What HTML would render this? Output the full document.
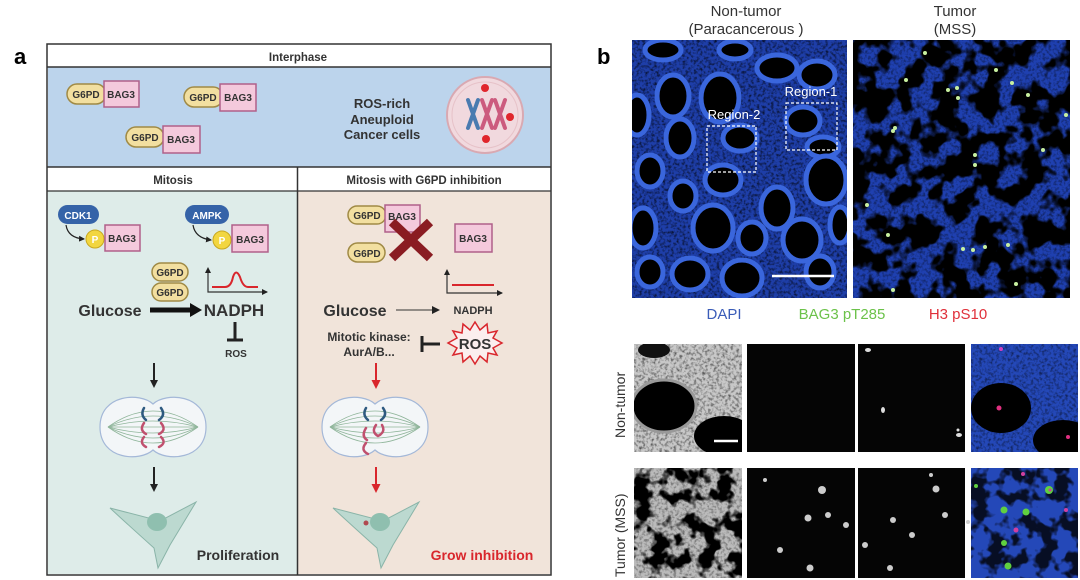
<!DOCTYPE html>
<html><head><meta charset="utf-8"><style>
html,body{margin:0;padding:0;background:#fff;width:1080px;height:580px;overflow:hidden}
svg{display:block}
text{font-family:"Liberation Sans",Arial,sans-serif}
.b{font-weight:bold}
</style></head><body>
<svg width="1080" height="580" viewBox="0 0 1080 580" xmlns="http://www.w3.org/2000/svg">
<defs>
<filter id="noise" x="0" y="0" width="100%" height="100%">
<feTurbulence type="fractalNoise" baseFrequency="0.35" numOctaves="2" seed="3"/>
<feColorMatrix type="matrix" values="0 0 0 0 0  0 0 0 0 0  0 0 0 0 0  0 0 0 -2.2 1.25"/>
</filter>
<filter id="noise2" x="0" y="0" width="100%" height="100%">
<feTurbulence type="fractalNoise" baseFrequency="0.045" numOctaves="3" seed="7"/>
<feColorMatrix type="matrix" values="0 0 0 0 0  0 0 0 0 0  0 0 0 0 0  0 0 0 -9 5.1"/>
</filter>
<filter id="noise3" x="0" y="0" width="100%" height="100%">
<feTurbulence type="fractalNoise" baseFrequency="0.06" numOctaves="3" seed="11"/>
<feColorMatrix type="matrix" values="0 0 0 0 0  0 0 0 0 0  0 0 0 0 0  0 0 0 -8 4.2"/>
</filter>
<marker id="ah" markerWidth="8" markerHeight="8" refX="6" refY="4" orient="auto" markerUnits="userSpaceOnUse"><path d="M0,0 L8,4 L0,8 Z" fill="#222"/></marker>
<marker id="ahr" markerWidth="9" markerHeight="9" refX="6" refY="4.5" orient="auto" markerUnits="userSpaceOnUse"><path d="M0,0 L9,4.5 L0,9 Z" fill="#d9262c"/></marker>
<marker id="ahs" markerWidth="6" markerHeight="6" refX="5" refY="3" orient="auto" markerUnits="userSpaceOnUse"><path d="M0,0 L6,3 L0,6 Z" fill="#222"/></marker>
</defs>

<text x="14" y="64" font-size="22" class="b">a</text>
<text x="597" y="64" font-size="22" class="b">b</text>

<!-- ================= PANEL A ================= -->
<rect x="47" y="44" width="504" height="531" fill="#fff" stroke="#333" stroke-width="1.5"/>
<rect x="48" y="67" width="502" height="100" fill="#bcd4ec"/>
<line x1="47" y1="67" x2="551" y2="67" stroke="#333" stroke-width="1.5"/>
<text x="298" y="61" font-size="11.5" class="b" text-anchor="middle" fill="#333">Interphase</text>
<line x1="47" y1="167" x2="551" y2="167" stroke="#333" stroke-width="1.5"/>
<rect x="48" y="191" width="249" height="383" fill="#deece9"/>
<rect x="298" y="191" width="252" height="383" fill="#f1e4da"/>
<line x1="47" y1="191" x2="551" y2="191" stroke="#333" stroke-width="1.2"/>
<line x1="297.5" y1="167" x2="297.5" y2="575" stroke="#333" stroke-width="1.5"/>
<text x="173" y="184" font-size="11.5" class="b" text-anchor="middle" fill="#333">Mitosis</text>
<text x="424" y="184" font-size="11.5" class="b" text-anchor="middle" fill="#333">Mitosis with G6PD inhibition</text>

<g font-size="10" class="b" fill="#333">
<rect x="67" y="84" width="39" height="20" rx="10" fill="#f2dfa0" stroke="#a08a45" stroke-width="1.5"/>
<rect x="104" y="81" width="35" height="26" fill="#f4c9dc" stroke="#b0608a" stroke-width="1.5"/>
<text x="86" y="98" text-anchor="middle">G6PD</text><text x="121" y="98" text-anchor="middle">BAG3</text>
<rect x="184" y="87" width="39" height="20" rx="10" fill="#f2dfa0" stroke="#a08a45" stroke-width="1.5"/>
<rect x="220" y="84" width="36" height="27" fill="#f4c9dc" stroke="#b0608a" stroke-width="1.5"/>
<text x="203" y="101" text-anchor="middle">G6PD</text><text x="238" y="101" text-anchor="middle">BAG3</text>
<rect x="126" y="127" width="38" height="20" rx="10" fill="#f2dfa0" stroke="#a08a45" stroke-width="1.5"/>
<rect x="163" y="126" width="37" height="27" fill="#f4c9dc" stroke="#b0608a" stroke-width="1.5"/>
<text x="145" y="141" text-anchor="middle">G6PD</text><text x="181" y="143" text-anchor="middle">BAG3</text>
</g>
<g font-size="13" class="b" fill="#333" text-anchor="middle">
<text x="382" y="108">ROS-rich</text><text x="382" y="124">Aneuploid</text><text x="382" y="139">Cancer cells</text>
</g>
<circle cx="485" cy="115" r="38" fill="#f1d9de" stroke="#d9a9b2" stroke-width="2"/>
<circle cx="485" cy="115" r="33" fill="none" stroke="#e6c2c8" stroke-width="1"/>
<g stroke-width="4" fill="none" stroke-linecap="round">
<path d="M468,100 L478,128 M478,100 L468,128" stroke="#4a7bb0"/>
<path d="M482,100 L492,128 M492,100 L482,128" stroke="#cc5b7e"/>
<path d="M495,100 L505,128 M505,100 L495,128" stroke="#cc5b7e"/>
</g>
<g fill="#e0262c"><circle cx="485" cy="88" r="4"/><circle cx="510" cy="117" r="4"/><circle cx="486" cy="139" r="4"/></g>

<rect x="58" y="205" width="41" height="19" rx="9.5" fill="#3563a8"/>
<text x="78" y="219" font-size="10" class="b" fill="#fff" text-anchor="middle">CDK1</text>
<path d="M66,225 Q68,238 84,239" fill="none" stroke="#222" stroke-width="1.2" marker-end="url(#ahs)"/>
<circle cx="95" cy="239" r="9" fill="#f2d640" stroke="#c8a820"/>
<text x="95" y="243" font-size="10" class="b" fill="#fff" text-anchor="middle">P</text>
<rect x="105" y="225" width="35" height="26" fill="#f4c9dc" stroke="#b0608a" stroke-width="1.5"/>
<text x="122" y="242" font-size="10" class="b" fill="#333" text-anchor="middle">BAG3</text>

<rect x="185" y="205" width="44" height="19" rx="9.5" fill="#3563a8"/>
<text x="207" y="219" font-size="10" class="b" fill="#fff" text-anchor="middle">AMPK</text>
<path d="M193,225 Q195,238 211,240" fill="none" stroke="#222" stroke-width="1.2" marker-end="url(#ahs)"/>
<circle cx="222" cy="240" r="9" fill="#f2d640" stroke="#c8a820"/>
<text x="222" y="244" font-size="10" class="b" fill="#fff" text-anchor="middle">P</text>
<rect x="232" y="225" width="36" height="27" fill="#f4c9dc" stroke="#b0608a" stroke-width="1.5"/>
<text x="250" y="243" font-size="10" class="b" fill="#333" text-anchor="middle">BAG3</text>

<rect x="152" y="263" width="36" height="18" rx="9" fill="#f2dfa0" stroke="#a08a45" stroke-width="1.5"/>
<text x="170" y="276" font-size="10" class="b" fill="#333" text-anchor="middle">G6PD</text>
<rect x="152" y="283" width="36" height="18" rx="9" fill="#f2dfa0" stroke="#a08a45" stroke-width="1.5"/>
<text x="170" y="296" font-size="10" class="b" fill="#333" text-anchor="middle">G6PD</text>
<path d="M208,270 L208,292 L267,292" fill="none" stroke="#333" stroke-width="1.2" marker-end="url(#ahs)"/>
<path d="M208,270 L208,268" stroke="#333" marker-end="url(#ahs)"/>
<path d="M212,287 L225,287 Q231,287 233,277 Q236,268 240,277 Q243,287 248,287 L258,287" fill="none" stroke="#d9262c" stroke-width="2"/>

<text x="110" y="316" font-size="16" class="b" fill="#333" text-anchor="middle">Glucose</text>
<path d="M150,310 L192,310" stroke="#111" stroke-width="5"/>
<path d="M190,303 L202,310 L190,317 Z" fill="#111"/>
<text x="234" y="316" font-size="17" class="b" fill="#333" text-anchor="middle">NADPH</text>
<path d="M235,322 L235,340 M227,340 L243,340" stroke="#222" stroke-width="3"/>
<text x="236" y="357" font-size="10" class="b" fill="#333" text-anchor="middle">ROS</text>

<line x1="154" y1="363" x2="154" y2="386" stroke="#222" stroke-width="2" marker-end="url(#ah)"/>
<line x1="154" y1="467" x2="154" y2="490" stroke="#222" stroke-width="2" marker-end="url(#ah)"/>

<g id="sp">
<path d="M153,404 C140,392 100,394 100,427 C100,460 140,462 153,450 C166,462 206,460 206,427 C206,394 166,392 153,404 Z" fill="#f3f6f8" stroke="#a4b8d8" stroke-width="1.2"/>
<g stroke="#8fb59a" stroke-width="0.8" fill="none">
<path d="M108,427 Q153,395 198,427"/><path d="M108,427 Q153,405 198,427"/><path d="M108,427 Q153,415 198,427"/><path d="M108,427 L198,427"/><path d="M108,427 Q153,439 198,427"/><path d="M108,427 Q153,449 198,427"/><path d="M108,427 Q153,459 198,427"/>
</g>
</g>
<g fill="none" stroke-width="2.5" stroke-linecap="round">
<path d="M144,408 Q140,415 146,420" stroke="#2e5a80"/><path d="M161,408 Q166,415 159,420" stroke="#2e5a80"/>
<path d="M144,423 Q139,430 146,434 M144,437 Q139,443 146,447" stroke="#c0506e"/><path d="M161,423 Q167,430 159,434 M161,437 Q167,443 159,447" stroke="#c0506e"/>
</g>
<path d="M110,508 L160,521 L196,502 L170,545 L158,568 L154,548 Q125,522 110,508 Z" fill="#bcd9d0" stroke="#8ab4a8" stroke-width="1"/>
<ellipse cx="157" cy="522" rx="10" ry="9" fill="#8fbfaf"/>
<text x="238" y="560" font-size="14" class="b" fill="#333" text-anchor="middle">Proliferation</text>

<rect x="348" y="206" width="38" height="18" rx="9" fill="#f2dfa0" stroke="#a08a45" stroke-width="1.5"/>
<text x="367" y="219" font-size="10" class="b" fill="#333" text-anchor="middle">G6PD</text>
<rect x="385" y="205" width="35" height="27" fill="#f4c9dc" stroke="#b0608a" stroke-width="1.5"/>
<text x="402" y="220" font-size="10" class="b" fill="#333" text-anchor="middle">BAG3</text>
<rect x="348" y="243" width="37" height="19" rx="9.5" fill="#f2dfa0" stroke="#a08a45" stroke-width="1.5"/>
<text x="367" y="257" font-size="10" class="b" fill="#333" text-anchor="middle">G6PD</text>
<path d="M392,222 L430,258 M430,222 L392,258" stroke="#8a1c22" stroke-width="9"/>
<rect x="455" y="224" width="37" height="28" fill="#f4c9dc" stroke="#b0608a" stroke-width="1.5"/>
<text x="473" y="242" font-size="10" class="b" fill="#333" text-anchor="middle">BAG3</text>
<path d="M447,272 L447,293 L502,293" fill="none" stroke="#333" stroke-width="1.2" marker-end="url(#ahs)"/>
<path d="M447,272 L447,270" stroke="#333" marker-end="url(#ahs)"/>
<line x1="452" y1="285" x2="494" y2="285" stroke="#d9262c" stroke-width="2"/>

<text x="355" y="316" font-size="16" class="b" fill="#333" text-anchor="middle">Glucose</text>
<line x1="396" y1="310" x2="438" y2="310" stroke="#333" stroke-width="1" marker-end="url(#ah)"/>
<text x="473" y="314" font-size="11" class="b" fill="#333" text-anchor="middle">NADPH</text>
<text x="369" y="341" font-size="12" class="b" fill="#333" text-anchor="middle">Mitotic kinase:</text>
<text x="369" y="356" font-size="12" class="b" fill="#333" text-anchor="middle">AurA/B...</text>
<path d="M440,344 L422,344 M422,336 L422,352" stroke="#222" stroke-width="3"/>
<polygon points="475,322 480,330 487,324 488,333 497,331 493,338 502,343 493,348 497,355 488,353 487,362 480,356 475,364 470,356 463,362 462,353 453,355 457,348 448,343 457,338 453,331 462,333 463,324 470,330" fill="#fbeeee" stroke="#d9262c" stroke-width="1.5"/>
<text x="475" y="349" font-size="15" class="b" fill="#333" text-anchor="middle">ROS</text>

<line x1="376" y1="363" x2="376" y2="386" stroke="#d9262c" stroke-width="2" marker-end="url(#ahr)"/>
<line x1="376" y1="467" x2="376" y2="490" stroke="#d9262c" stroke-width="2" marker-end="url(#ahr)"/>
<use href="#sp" transform="translate(222,0)"/>
<g fill="none" stroke-width="2.5" stroke-linecap="round">
<path d="M366,408 Q362,415 368,420" stroke="#2e5a80"/><path d="M383,408 Q388,415 381,420" stroke="#2e5a80"/>
<path d="M366,428 Q361,436 367,440 M366,443 Q360,450 368,454" stroke="#c0506e"/><path d="M376,425 Q371,432 378,436 Q386,432 382,425" stroke="#c0506e"/>
</g>
<path d="M333,508 L383,521 L419,502 L393,545 L381,568 L377,548 Q348,522 333,508 Z" fill="#bcd9d0" stroke="#8ab4a8" stroke-width="1"/>
<ellipse cx="380" cy="522" rx="10" ry="9" fill="#8fbfaf"/>
<circle cx="366" cy="523" r="2.5" fill="#b04a50"/>
<text x="482" y="560" font-size="14" class="b" fill="#d9262c" text-anchor="middle">Grow inhibition</text>

<!-- ================= PANEL B ================= -->
<g font-size="15" fill="#333" text-anchor="middle">
<text x="746" y="16">Non-tumor</text><text x="746" y="34">(Paracancerous )</text>
<text x="955" y="16">Tumor</text><text x="955" y="34">(MSS)</text>
</g>
<svg x="632" y="40" width="215" height="258" viewBox="632 40 215 258">
<rect x="632" y="40" width="215" height="258" fill="#1e3ea8"/>
<rect x="632" y="40" width="215" height="258" fill="#000" filter="url(#noise)" opacity="0.75"/>
<g fill="#000" stroke="#3a66dc" stroke-width="5">
<ellipse cx="673" cy="96" rx="16" ry="21"/><ellipse cx="720" cy="98" rx="19" ry="24"/>
<ellipse cx="637" cy="115" rx="12" ry="20"/><ellipse cx="680" cy="138" rx="14" ry="19"/>
<ellipse cx="650" cy="171" rx="13" ry="16"/><ellipse cx="740" cy="138" rx="17" ry="13"/>
<ellipse cx="777" cy="68" rx="20" ry="13"/><ellipse cx="817" cy="75" rx="18" ry="14"/>
<ellipse cx="803" cy="121" rx="17" ry="14"/><ellipse cx="823" cy="147" rx="16" ry="10"/>
<ellipse cx="826" cy="180" rx="20" ry="24"/><ellipse cx="683" cy="196" rx="13" ry="15"/>
<ellipse cx="723" cy="180" rx="18" ry="15"/><ellipse cx="777" cy="208" rx="16" ry="21"/>
<ellipse cx="643" cy="228" rx="13" ry="20"/><ellipse cx="713" cy="228" rx="20" ry="23"/>
<ellipse cx="752" cy="238" rx="14" ry="16"/><ellipse cx="802" cy="240" rx="19" ry="21"/>
<ellipse cx="690" cy="274" rx="18" ry="16"/><ellipse cx="742" cy="278" rx="20" ry="18"/>
<ellipse cx="820" cy="272" rx="14" ry="16"/><ellipse cx="650" cy="272" rx="13" ry="15"/>
<ellipse cx="663" cy="50" rx="18" ry="10"/><ellipse cx="735" cy="50" rx="16" ry="9"/>
<ellipse cx="840" cy="225" rx="10" ry="18"/>
</g>
<line x1="772" y1="276" x2="834" y2="276" stroke="#fff" stroke-width="2.5"/>
</svg>
<g stroke="#fff" stroke-width="1.2" stroke-dasharray="3,2" fill="none">
<rect x="707" y="126" width="49" height="46"/><rect x="786" y="103" width="51" height="47"/>
<rect x="931" y="77" width="50" height="48"/><rect x="946" y="231" width="51" height="48"/>
</g>
<g font-size="13" fill="#fff" text-anchor="middle">
<text x="734" y="119">Region-2</text><text x="811" y="96">Region-1</text>
<text x="954" y="72">Region-1</text><text x="955" y="225">Region-2</text>
</g>
<svg x="853" y="40" width="217" height="258" viewBox="853 40 217 258">
<rect x="853" y="40" width="217" height="258" fill="#1f40b0"/>
<rect x="853" y="40" width="217" height="258" fill="#000" filter="url(#noise2)"/>
<rect x="853" y="40" width="217" height="258" fill="#000" filter="url(#noise)" opacity="0.5"/>
<g fill="#c8f0a0">
<circle cx="925" cy="53" r="2"/><circle cx="906" cy="80" r="2"/><circle cx="948" cy="90" r="2"/><circle cx="958" cy="98" r="2"/><circle cx="957" cy="88" r="2"/><circle cx="996" cy="70" r="2"/><circle cx="1012" cy="83" r="2"/><circle cx="1028" cy="95" r="2"/><circle cx="895" cy="128" r="2"/><circle cx="893" cy="131" r="2"/><circle cx="975" cy="155" r="2"/><circle cx="975" cy="165" r="2"/><circle cx="1043" cy="150" r="2"/><circle cx="867" cy="205" r="2"/><circle cx="888" cy="235" r="2"/><circle cx="963" cy="249" r="2"/><circle cx="973" cy="250" r="2"/><circle cx="985" cy="247" r="2"/><circle cx="1008" cy="245" r="2"/><circle cx="1016" cy="284" r="2"/><circle cx="893" cy="290" r="2"/><circle cx="1066" cy="115" r="2"/>
</g>
</svg>
<g font-size="15" text-anchor="middle">
<text x="724" y="319" fill="#3a5cb8">DAPI</text>
<text x="842" y="319" fill="#6cc24a">BAG3 pT285</text>
<text x="958" y="319" fill="#e0303a">H3 pS10</text>
</g>
<g font-size="14" fill="#333">
<text transform="translate(625,438) rotate(-90)">Non-tumor</text>
<text transform="translate(625,577) rotate(-90)">Tumor (MSS)</text>
</g>
<svg x="634" y="344" width="108" height="108" viewBox="0 0 108 108">
<rect width="108" height="108" fill="#c8c8c8"/>
<rect width="108" height="108" fill="#000" filter="url(#noise)" opacity="0.6"/>
<ellipse cx="30" cy="62" rx="32" ry="26" fill="#000" stroke="#999" stroke-width="3"/>
<ellipse cx="90" cy="92" rx="30" ry="20" fill="#000"/>
<ellipse cx="20" cy="6" rx="16" ry="8" fill="#111"/>
<line x1="80" y1="97" x2="104" y2="97" stroke="#fff" stroke-width="2.5"/>
</svg>
<rect x="747" y="344" width="108" height="108" fill="#050505"/>
<rect x="858" y="344" width="107" height="108" fill="#050505"/>
<g fill="#ddd"><ellipse cx="868" cy="350" rx="3" ry="2"/><ellipse cx="883" cy="410" rx="2" ry="3"/><ellipse cx="959" cy="435" rx="3" ry="2"/><ellipse cx="958" cy="430" rx="1.5" ry="1.5"/></g>
<svg x="971" y="344" width="107" height="108" viewBox="0 0 107 108">
<rect width="107" height="108" fill="#2448b8"/>
<rect width="107" height="108" fill="#000" filter="url(#noise)" opacity="0.55"/>
<ellipse cx="30" cy="64" rx="30" ry="25" fill="#000"/>
<ellipse cx="92" cy="96" rx="30" ry="20" fill="#000"/>
<circle cx="30" cy="5" r="2" fill="#d040c0"/><circle cx="28" cy="64" r="2.5" fill="#e03080"/><circle cx="97" cy="93" r="2" fill="#e03080"/>
</svg>
<svg x="634" y="468" width="108" height="110" viewBox="0 0 108 110">
<rect width="108" height="110" fill="#bbb"/>
<rect width="108" height="110" fill="#000" filter="url(#noise3)"/>
<rect width="108" height="110" fill="#000" filter="url(#noise)" opacity="0.45"/>
</svg>
<rect x="747" y="468" width="108" height="110" fill="#050505"/>
<rect x="858" y="468" width="107" height="110" fill="#050505"/>
<g fill="#ccc">
<circle cx="822" cy="490" r="4"/><circle cx="828" cy="515" r="3"/><circle cx="808" cy="518" r="3.5"/><circle cx="846" cy="525" r="3"/><circle cx="780" cy="550" r="3"/><circle cx="810" cy="568" r="3.5"/><circle cx="765" cy="480" r="2"/>
<circle cx="936" cy="489" r="3.5"/><circle cx="945" cy="515" r="3"/><circle cx="893" cy="520" r="3"/><circle cx="912" cy="535" r="3"/><circle cx="968" cy="522" r="2"/><circle cx="865" cy="545" r="3"/><circle cx="890" cy="568" r="3"/><circle cx="931" cy="475" r="2"/>
</g>
<svg x="971" y="468" width="107" height="110" viewBox="0 0 107 110">
<rect width="107" height="110" fill="#2448b8"/>
<rect width="107" height="110" fill="#000" filter="url(#noise3)" opacity="0.8"/>
<g fill="#60d040"><circle cx="78" cy="22" r="4"/><circle cx="33" cy="42" r="3.5"/><circle cx="55" cy="44" r="3.5"/><circle cx="33" cy="75" r="3"/><circle cx="37" cy="98" r="3.5"/><circle cx="5" cy="18" r="2"/></g>
<g fill="#d040a0"><circle cx="52" cy="6" r="2"/><circle cx="45" cy="62" r="2.5"/><circle cx="79" cy="22" r="1.5"/><circle cx="95" cy="42" r="2"/></g>
</svg>
</svg>
</body></html>
